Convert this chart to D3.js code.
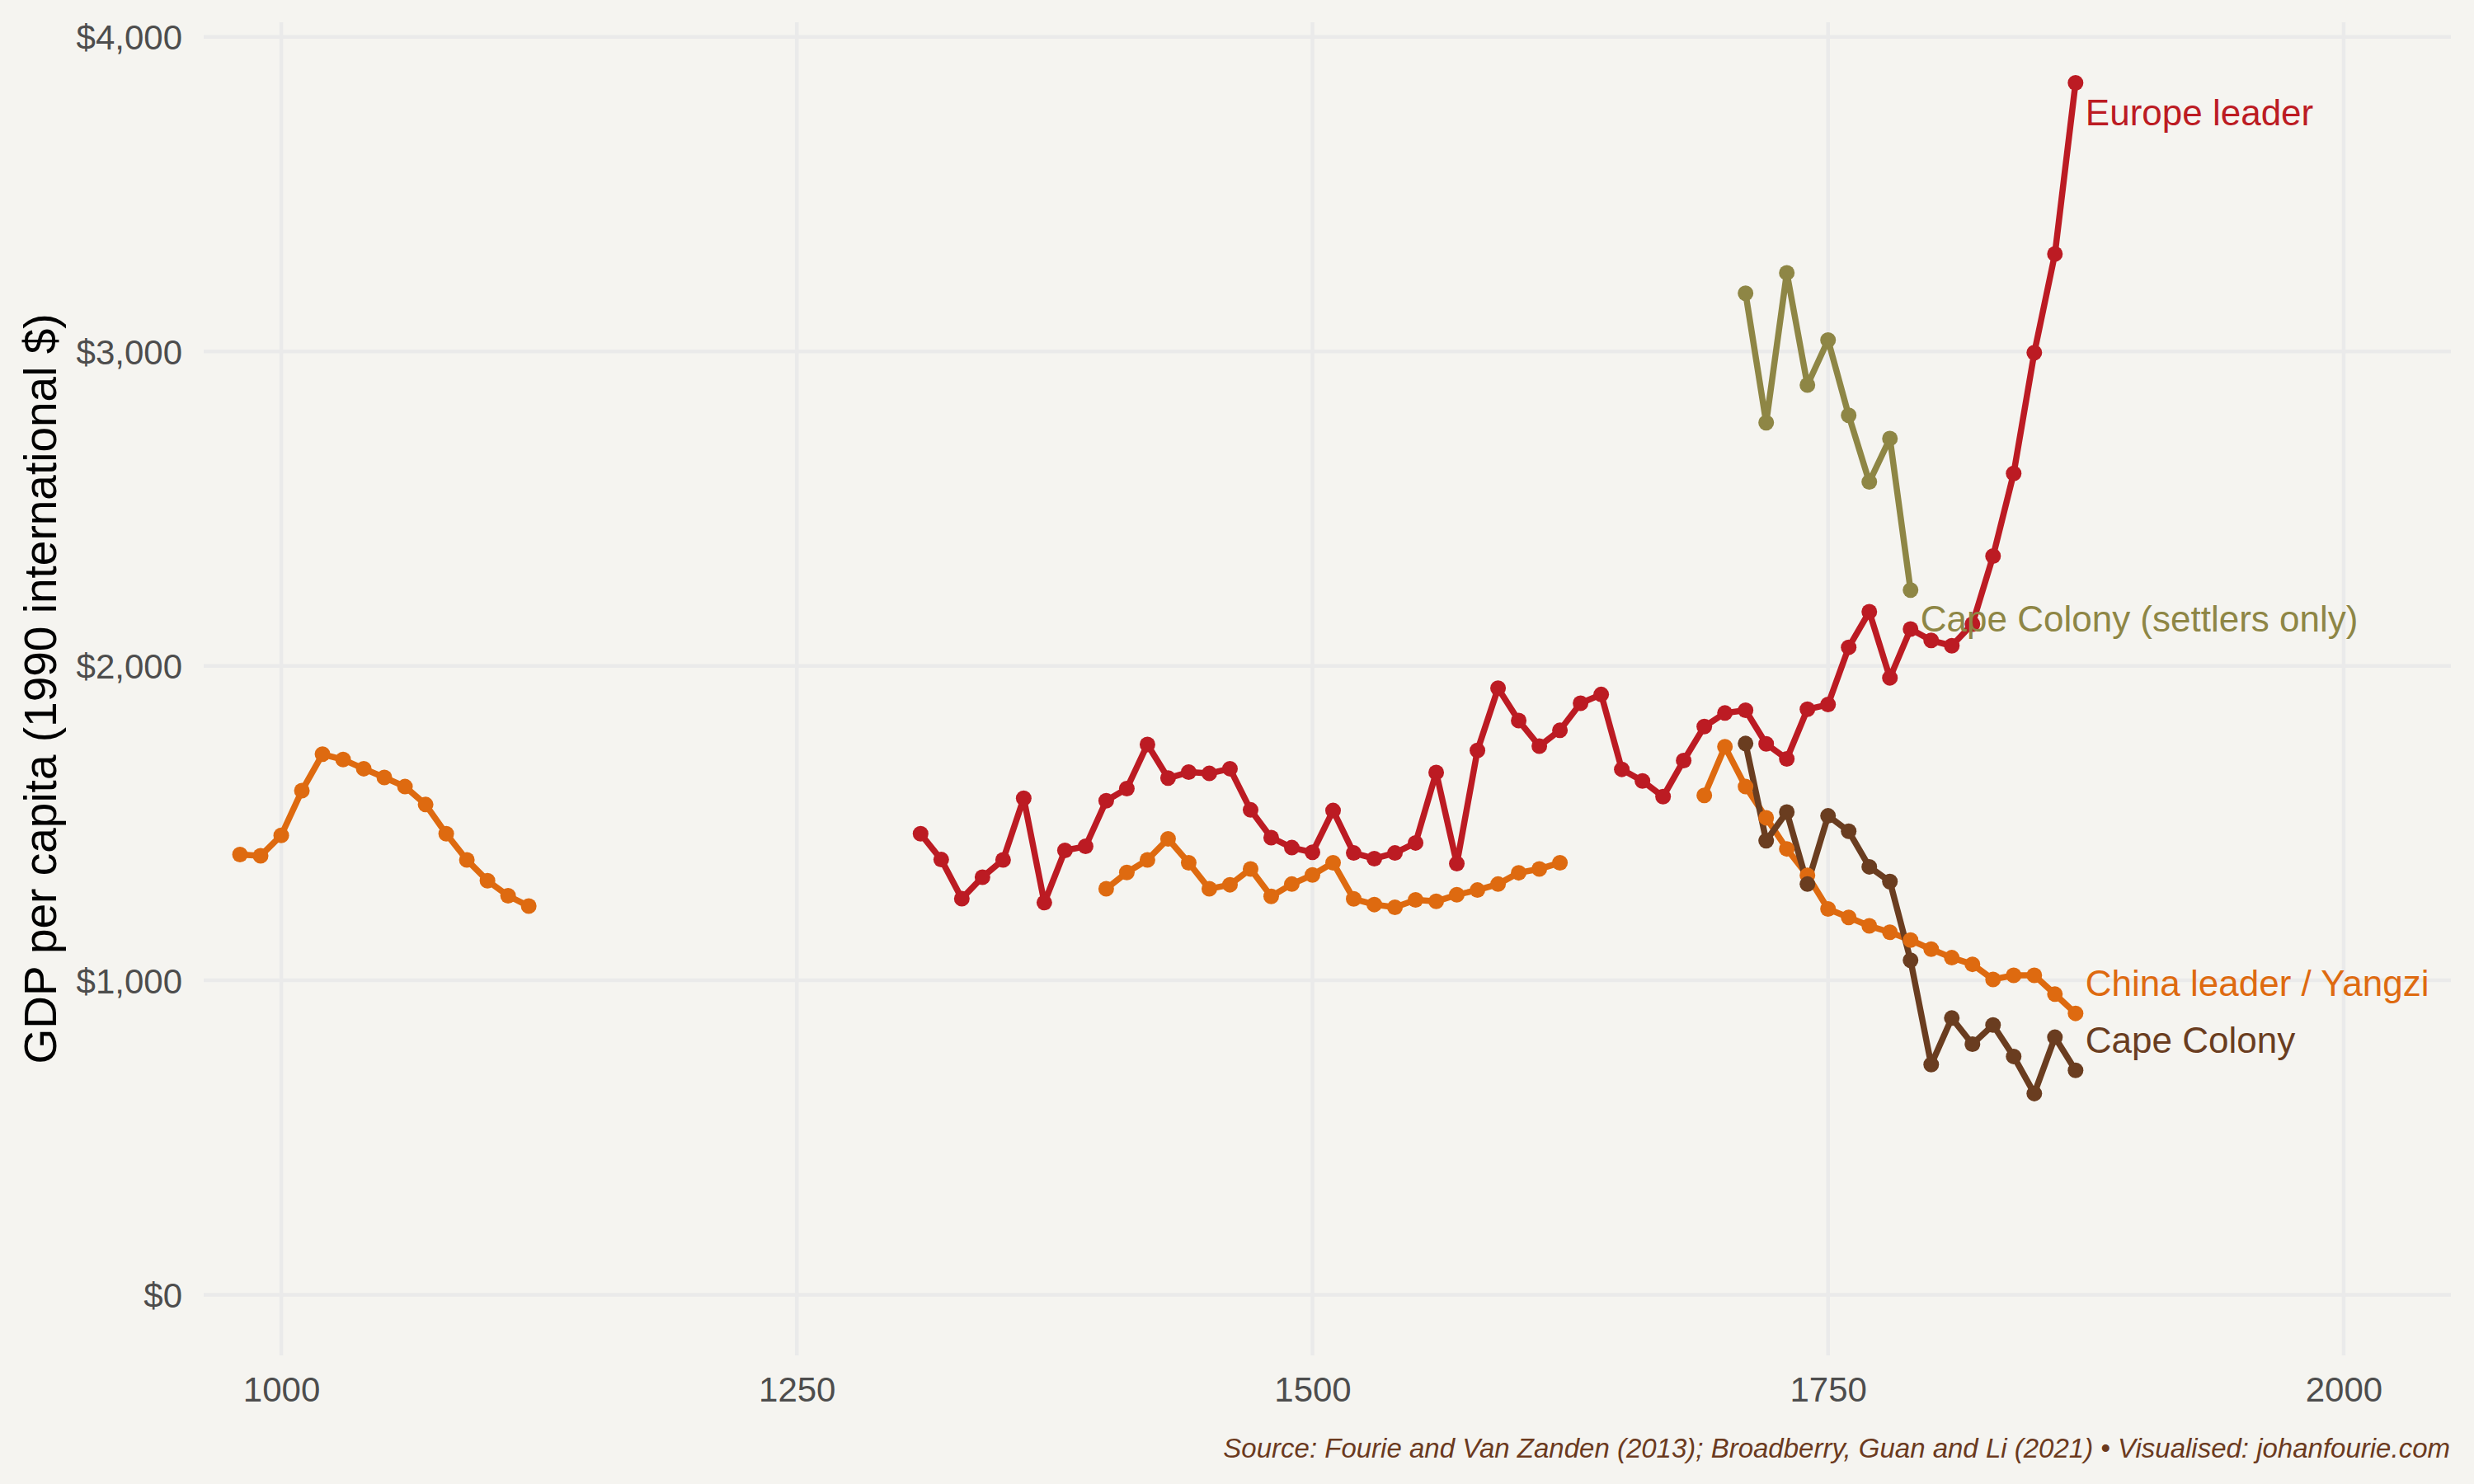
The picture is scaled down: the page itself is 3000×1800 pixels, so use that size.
<!DOCTYPE html>
<html>
<head>
<meta charset="utf-8">
<script src="https://cdn.jsdelivr.net/npm/d3@7"></script>
<style>
  html, body { margin: 0; padding: 0; background: #F5F4F0; }
  svg { display: block; }
  text { font-family: "Liberation Sans", Arial, sans-serif; }
</style>
</head>
<body>
<div class="chart"></div>
<script>
// data (GDP per capita, 1990 intl $)
const europeYears = [1310,1320,1330,1340,1350,1360,1370,1380,1390,1400,1410,1420,1430,1440,1450,1460,1470,1480,1490,1500,
  1510,1520,1530,1540,1550,1560,1570,1580,1590,1600,1610,1620,1630,1640,1650,1660,1670,1680,1690,1700,
  1710,1720,1730,1740,1750,1760,1770,1780,1790,1800,1810,1820,1830,1840,1850,1860,1870];
const europeValues = [1466,1384,1260,1328,1383,1579,1247,1413,1426,1571,1610,1750,1643,1662,1658,1673,1542,1454,1422,1407,
  1540,1405,1387,1405,1437,1661,1371,1731,1929,1826,1745,1795,1881,1909,1671,1634,1584,1699,1807,1850,
  1859,1752,1704,1862,1877,2059,2172,1962,2117,2081,2064,2133,2349,2612,2996,3310,3854];

const chinaSongYears = [980,990,1000,1010,1020,1030,1040,1050,1060,1070,1080,1090,1100,1110,1120];
const chinaSongValues = [1400,1396,1461,1603,1719,1702,1673,1645,1616,1559,1466,1383,1317,1269,1236];

const chinaMingYears = [1400,1410,1420,1430,1440,1450,1460,1470,1480,1490,1500,1510,1520,1530,1540,1550,
  1560,1570,1580,1590,1600,1610,1620];
const chinaMingValues = [1291,1343,1383,1450,1374,1291,1304,1354,1267,1306,1335,1374,1259,1241,1232,1256,
  1251,1272,1287,1306,1342,1354,1374];

const yangziYears = [1690,1700,1710,1720,1730,1740,1750,1760,1770,1780,1790,1800,1810,1820,1830,1840,1850,1860,1870];
const yangziValues = [1588,1743,1616,1517,1418,1334,1227,1200,1173,1153,1128,1099,1072,1051,1003,1016,1016,956,895];

const capeYears = [1710,1720,1730,1740,1750,1760,1770,1780,1790,1800,1810,1820,1830,1840,1850,1860,1870];
const capeValues = [1753,1444,1535,1306,1523,1474,1361,1314,1064,732,880,797,858,758,640,819,714];

const settlerYears = [1710,1720,1730,1740,1750,1760,1770,1780,1790];
const settlerValues = [3185,2773,3250,2893,3036,2797,2585,2723,2241];

const yTicks = [0, 1000, 2000, 3000, 4000];
const xTicks = [1000, 1250, 1500, 1750, 2000];

const colors = {
  europe: "#BC1B23",
  china: "#DE6A10",
  cape: "#6A3D20",
  settlers: "#8E8645"
};

const zip = (xs, ys) => xs.map((d, i) => ({ year: d, value: ys[i] }));

// draw order: lines first, then points, then labels
const segments = [
  { key: "china", data: zip(chinaSongYears, chinaSongValues) },
  { key: "china", data: zip(chinaMingYears, chinaMingValues) },
  { key: "europe", data: zip(europeYears, europeValues) },
  { key: "china", data: zip(yangziYears, yangziValues) },
  { key: "cape", data: zip(capeYears, capeValues) },
  { key: "settlers", data: zip(settlerYears, settlerValues) }
];

const labels = [
  { key: "europe", text: "Europe leader", year: 1870, value: 3854, dx: 12, dy: 51 },
  { key: "settlers", text: "Cape Colony (settlers only)", year: 1790, value: 2241, dx: 12, dy: 50 },
  { key: "china", text: "China leader / Yangzi", year: 1870, value: 895, dx: 12, dy: -21 },
  { key: "cape", text: "Cape Colony", year: 1870, value: 714, dx: 12, dy: -21 }
];

const width = 3000,
  height = 1800,
  margin = ({ top: 27, right: 28, bottom: 156, left: 247 });

const x = d3.scaleLinear()
  .domain([962.4, 2052])
  .range([margin.left, width - margin.right]);

const y = d3.scaleLinear()
  .domain([-192.7, 4046.7])
  .range([height - margin.bottom, margin.top]);

const svg = d3.select(".chart").append("svg")
  .attr("width", width)
  .attr("height", height)
  .attr("viewBox", [0, 0, width, height]);

svg.append("rect")
  .attr("width", width)
  .attr("height", height)
  .attr("fill", "#F5F4F0");

// grid
svg.append("g")
  .selectAll("line")
  .data(yTicks)
  .join("line")
  .attr("x1", margin.left)
  .attr("x2", width - margin.right)
  .attr("y1", d => y(d))
  .attr("y2", d => y(d))
  .attr("stroke", "#EAEAEA")
  .attr("stroke-width", 4.5);

svg.append("g")
  .selectAll("line")
  .data(xTicks)
  .join("line")
  .attr("x1", d => x(d))
  .attr("x2", d => x(d))
  .attr("y1", margin.top)
  .attr("y2", height - margin.bottom)
  .attr("stroke", "#EAEAEA")
  .attr("stroke-width", 4.5);

// axes
const yAxis = g => g
  .attr("transform", `translate(${margin.left},0)`)
  .call(d3.axisLeft(y).tickValues(yTicks).tickFormat(d3.format("$,")).tickSize(0).tickPadding(26))
  .call(g => g.select(".domain").remove())
  .call(g => g.selectAll("text")
    .attr("fill", "#4D4D4D")
    .style("font-size", "42px")
    .attr("dy", "0.36em"));

const xAxis = g => g
  .attr("transform", `translate(0,${height - margin.bottom})`)
  .call(d3.axisBottom(x).tickValues(xTicks).tickFormat(d3.format("d")).tickSize(0).tickPadding(26))
  .call(g => g.select(".domain").remove())
  .call(g => g.selectAll("text")
    .attr("fill", "#4D4D4D")
    .style("font-size", "42px")
    .attr("dy", "0.71em"));

svg.append("g").call(yAxis).attr("font-family", null);
svg.append("g").call(xAxis).attr("font-family", null);

svg.append("text")
  .attr("transform", `translate(68,${(margin.top + height - margin.bottom) / 2}) rotate(-90)`)
  .attr("text-anchor", "middle")
  .attr("fill", "#000")
  .style("font-size", "55px")
  .text("GDP per capita (1990 international $)");

// series
const line = d3.line()
  .x(d => x(d.year))
  .y(d => y(d.value));

svg.append("g")
  .attr("fill", "none")
  .attr("stroke-width", 7.5)
  .attr("stroke-linejoin", "round")
  .attr("stroke-linecap", "butt")
  .selectAll("path")
  .data(segments)
  .join("path")
  .attr("stroke", d => colors[d.key])
  .attr("d", d => line(d.data));

svg.append("g")
  .selectAll("g")
  .data(segments)
  .join("g")
  .attr("fill", d => colors[d.key])
  .selectAll("circle")
  .data(d => d.data)
  .join("circle")
  .attr("cx", d => x(d.year))
  .attr("cy", d => y(d.value))
  .attr("r", 9.5);

svg.append("g")
  .selectAll("text")
  .data(labels)
  .join("text")
  .attr("x", d => x(d.year) + d.dx)
  .attr("y", d => y(d.value) + d.dy)
  .attr("fill", d => colors[d.key])
  .style("font-size", "44px")
  .text(d => d.text);

svg.append("text")
  .attr("x", 2971)
  .attr("y", 1768)
  .attr("text-anchor", "end")
  .attr("fill", "#6B3A1E")
  .style("font-size", "33px")
  .style("font-style", "italic")
  .text("Source: Fourie and Van Zanden (2013); Broadberry, Guan and Li (2021) \u2022 Visualised: johanfourie.com");
</script>
</body>
</html>
